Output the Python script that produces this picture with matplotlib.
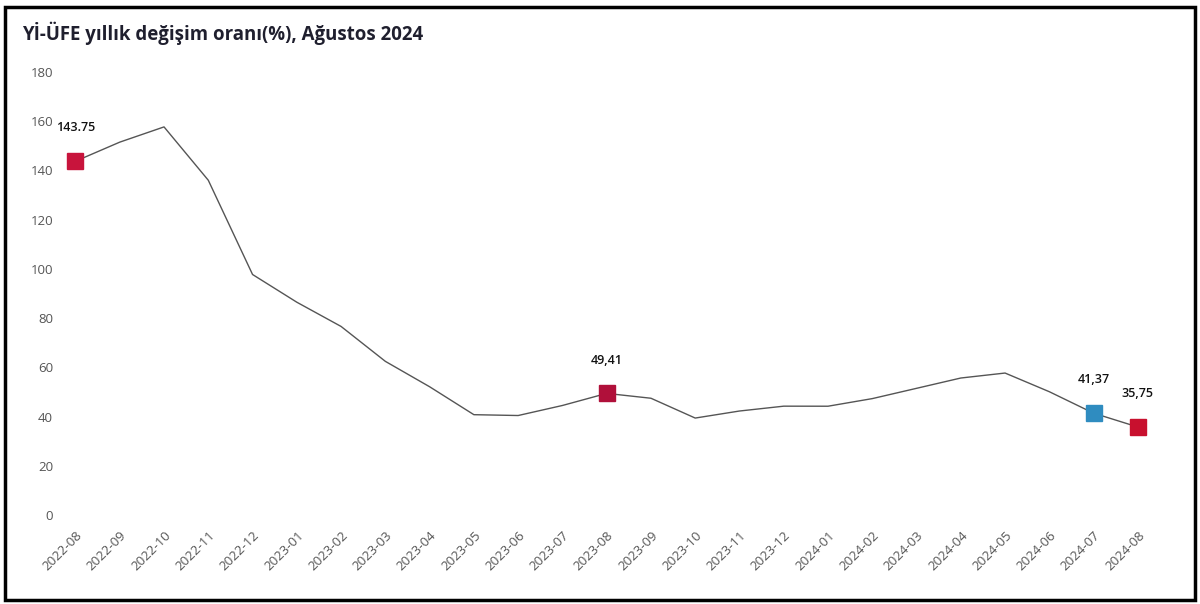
import matplotlib
matplotlib.use("Agg")
import matplotlib.pyplot as plt
from matplotlib.patches import Rectangle

plt.rcParams['font.family'] = ['Open Sans', 'DejaVu Sans']

# YI-UFE annual change, %
months = ['2022-08', '2022-09', '2022-10', '2022-11', '2022-12',
          '2023-01', '2023-02', '2023-03', '2023-04', '2023-05', '2023-06',
          '2023-07', '2023-08', '2023-09', '2023-10', '2023-11', '2023-12',
          '2024-01', '2024-02', '2024-03', '2024-04', '2024-05', '2024-06',
          '2024-07', '2024-08']
values = [143.75, 151.50, 157.69, 136.02, 97.72,
          86.46, 76.61, 62.43, 52.11, 40.76, 40.42,
          44.50, 49.41, 47.44, 39.39, 42.25, 44.22,
          44.20, 47.29, 51.47, 55.66, 57.68, 50.09,
          41.37, 35.75]

# highlighted points: index, label text, colour
marks = [(0, '143.75', '#c8143c'),
         (12, '49,41', '#b0103a'),
         (23, '41,37', '#2f8cc0'),
         (24, '35,75', '#c8102e')]

fig = plt.figure(figsize=(12, 6.04), dpi=100)
ax = fig.add_axes([60/1200, 89/604, 1100/1200, 443/604])

x = list(range(len(months)))
ax.plot(x, values, color='#555555', lw=1.0, zorder=2)

for i, txt, c in marks:
    ax.plot(x[i], values[i], marker='s', ms=11.5, color=c, mec=c,
            ls='none', zorder=3, clip_on=False)
    ax.annotate(txt, (x[i], values[i]), xytext=(0, 24), textcoords='offset points',
                ha='center', va='center', fontsize=9, fontweight='semibold',
                color='#111111')

ax.set_xlim(-0.35, 24.5)
ax.set_ylim(0, 180)
ax.set_yticks(range(0, 181, 20))
ax.set_xticks(x)
ax.set_xticklabels(months, rotation=45, ha='right', rotation_mode='anchor')
ax.tick_params(axis='both', length=0, labelsize=9.5, labelcolor='#555555')
ax.tick_params(axis='y', pad=5)
ax.tick_params(axis='x', pad=10)
for s in ax.spines.values():
    s.set_visible(False)

fig.text(22/1200, 1 - 33/604, 'Yİ-ÜFE yıllık değişim oranı(%), Ağustos 2024',
         fontsize=13.4, fontweight='bold', color='#1f1f2e', ha='left', va='center')

fig.patches.append(Rectangle((5/1200, 4/604), 1190/1200, 593/604,
                             transform=fig.transFigure, fill=False,
                             edgecolor='black', lw=2.5))

fig.savefig('out.png', dpi=100)
